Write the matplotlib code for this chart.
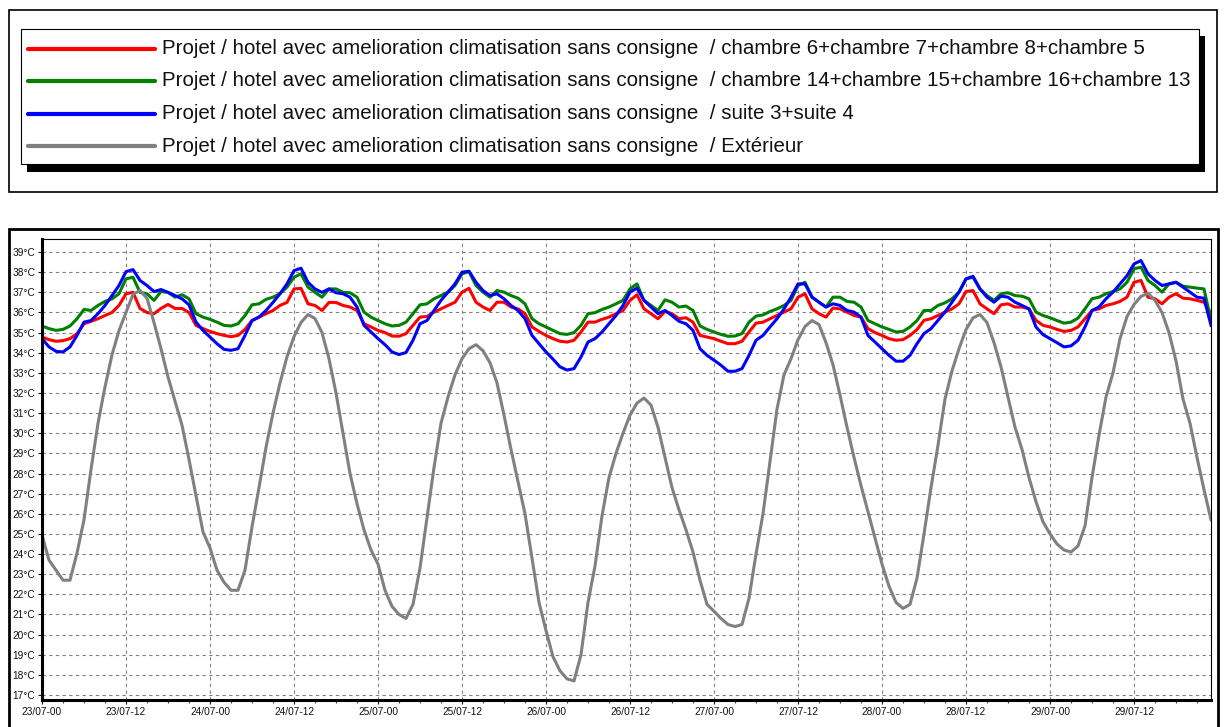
import matplotlib
matplotlib.use('Agg')
import matplotlib.pyplot as plt
from matplotlib.patches import Rectangle
from matplotlib.lines import Line2D
from matplotlib.ticker import MultipleLocator
import numpy as np

plt.rcParams['font.family'] = ['Liberation Sans', 'DejaVu Sans']

W, H = 1227, 727

# hourly temperatures, 23/07 00h -> 29/07 23h
hours = np.arange(168)

red = [34.78, 34.65, 34.57, 34.6, 34.7, 34.95, 35.44, 35.56, 35.69, 35.85,
       36.0, 36.35, 36.93, 37.0, 36.2, 36.0, 35.94, 36.2, 36.4, 36.2,
       36.2, 36.0, 35.36, 35.2, 35.06, 34.95, 34.86, 34.8, 34.86, 35.16,
       35.6, 35.77, 35.94, 36.1, 36.35, 36.5, 37.17, 37.2, 36.43, 36.35,
       36.1, 36.5, 36.5,
       36.35, 36.27, 36.1, 35.44, 35.28, 35.11, 35.0, 34.83, 34.82, 34.95,
       35.36, 35.77, 35.8, 36.02, 36.18, 36.35, 36.51, 37.01, 37.2, 36.51,
       36.27, 36.1, 36.51, 36.51, 36.27, 36.18, 35.94, 35.28, 35.06, 34.86,
       34.7, 34.57, 34.53, 34.62, 35.03, 35.52, 35.52, 35.66, 35.77, 35.94, 36.1,
       36.6, 36.88, 36.18, 35.94, 35.69, 36.05, 35.94, 35.69, 35.74, 35.52,
       34.86, 34.78, 34.7, 34.57, 34.45, 34.45, 34.57, 35.03, 35.47, 35.52,
       35.69, 35.85, 36.02, 36.18, 36.76, 36.93, 36.18, 35.94, 35.77, 36.22,
       36.18, 36.02, 35.85, 35.77, 35.2, 35.0, 34.86, 34.7, 34.62, 34.65, 34.86,
       35.15, 35.61, 35.69, 35.85, 36.02, 36.18, 36.43, 37.04, 37.09, 36.43,
       36.18, 35.94, 36.38, 36.43, 36.27, 36.27, 36.18, 35.61, 35.36, 35.28,
       35.16, 35.06, 35.11, 35.28, 35.69, 36.1, 36.18, 36.35, 36.43, 36.55,
       36.76, 37.5, 37.59, 36.76, 36.68, 36.43, 36.76, 36.93, 36.71, 36.68,
       36.6, 36.51, 35.94]

green = [35.33, 35.2, 35.11, 35.16, 35.33, 35.69, 36.15, 36.1, 36.35, 36.55,
         36.68, 36.93, 37.67, 37.75, 37.0, 36.93, 36.6, 37.04, 37.0, 36.76,
         36.88, 36.68, 35.94, 35.77, 35.66, 35.52, 35.36, 35.33, 35.44, 35.85,
         36.38, 36.43, 36.65, 36.76, 36.93, 37.26, 37.75, 37.92, 37.26, 37.0,
         36.76, 37.17, 37.17,
         37.0, 36.98, 36.76, 36.02, 35.77, 35.6, 35.44, 35.33, 35.36, 35.52,
         35.94, 36.38, 36.43, 36.68, 36.84, 37.01, 37.34, 37.92, 38.03, 37.34,
         37.01, 36.76, 37.09, 37.01, 36.84, 36.71, 36.43, 35.69, 35.44, 35.28,
         35.11, 34.95, 34.91, 35.0, 35.36, 35.94, 35.99, 36.15, 36.27, 36.43, 36.6,
         37.17, 37.42, 36.6, 36.35, 36.1, 36.63, 36.51, 36.27, 36.32, 36.1,
         35.33, 35.16, 35.03, 34.91, 34.82, 34.83, 34.95, 35.52, 35.82, 35.88,
         36.05, 36.18, 36.35, 36.6, 37.34, 37.5, 36.76, 36.51, 36.27, 36.76,
         36.76, 36.55, 36.51, 36.27, 35.6, 35.44, 35.28, 35.16, 35.03, 35.06, 35.28,
         35.6, 36.1, 36.1, 36.35, 36.48, 36.68, 37.01, 37.67, 37.75, 37.17,
         36.84, 36.6, 36.93, 36.98, 36.84, 36.81, 36.68, 36.02, 35.85, 35.74,
         35.6, 35.47, 35.52, 35.72, 36.18, 36.68, 36.76, 36.93, 37.04, 37.17,
         37.5, 38.17, 38.25, 37.59, 37.34, 37.01, 37.42, 37.5, 37.31, 37.26,
         37.21, 37.17, 35.6]

blue = [34.7, 34.29, 34.07, 34.04, 34.29, 34.86, 35.52, 35.6, 35.94, 36.35,
        36.84, 37.34, 38.03, 38.13, 37.59, 37.34, 37.04, 37.14, 37.0, 36.84,
        36.68, 36.38, 35.52, 35.11, 34.78, 34.45, 34.17, 34.12, 34.2, 34.86,
        35.6, 35.77, 36.1, 36.5, 36.93, 37.42, 38.08, 38.2, 37.5, 37.17,
        37.0, 37.17, 36.98,
        36.93, 36.76, 36.27, 35.36, 35.03, 34.7, 34.4, 34.04, 33.91, 34.01,
        34.62, 35.44, 35.6, 36.1, 36.6, 37.01, 37.42, 38.0, 38.05, 37.5,
        37.09, 36.84, 36.93, 36.68, 36.35, 36.1, 35.69, 34.86, 34.45, 34.04,
        33.68, 33.3, 33.14, 33.21, 33.79, 34.53, 34.7, 35.03, 35.44, 35.85, 36.35,
        37.01, 37.21, 36.6, 36.27, 35.94, 36.1, 35.85, 35.56, 35.44, 35.11,
        34.2, 33.87, 33.63, 33.38, 33.08, 33.08, 33.21, 33.87, 34.62, 34.86,
        35.28, 35.69, 36.18, 36.76, 37.42, 37.42, 36.76, 36.51, 36.27, 36.43,
        36.35, 36.1, 36.02, 35.77, 34.86, 34.53, 34.2, 33.87, 33.58, 33.58, 33.87,
        34.45, 34.95, 35.2, 35.61, 36.02, 36.51, 37.01, 37.67, 37.8, 37.17,
        36.76, 36.51, 36.81, 36.76, 36.51, 36.35, 36.18, 35.28, 34.9, 34.7,
        34.5, 34.29, 34.34, 34.62, 35.28, 36.1, 36.27, 36.68, 37.01, 37.42,
        37.83, 38.41, 38.58, 37.92, 37.59, 37.34, 37.42, 37.5, 37.26, 37.01,
        36.76, 36.71, 35.36]

ext = [24.95, 23.7, 23.2, 22.7, 22.7, 24.05, 25.7, 28.2, 30.5, 32.3,
       33.9, 35.1, 36.0, 36.9, 37.1, 36.7, 35.5, 34.2, 32.8, 31.6,
       30.4, 28.7, 26.9, 25.1, 24.3, 23.2, 22.6, 22.2, 22.2, 23.2,
       25.35, 27.3, 29.3, 31.0, 32.5, 33.8, 34.8, 35.5, 35.9, 35.7,
       35.0, 33.7, 32.0, 30.0, 28.0, 26.5, 25.2, 24.2, 23.5, 22.2,
       21.4, 21.0, 20.8, 21.5, 23.3, 25.8, 28.3, 30.5, 31.8, 32.9,
       33.7, 34.2, 34.4, 34.1, 33.5, 32.5, 30.9, 29.2, 27.6, 26.0,
       23.8, 21.6, 20.2, 18.9, 18.2, 17.8, 17.7, 19.0, 21.6, 23.4,
       25.9, 27.8, 29.0, 30.0, 30.9, 31.5, 31.75, 31.4, 30.3, 28.8,
       27.3, 26.2, 25.2, 24.1, 22.7, 21.5, 21.16, 20.8, 20.5, 20.4,
       20.5, 21.8, 24.0, 26.0, 28.6, 31.2, 32.9, 33.7, 34.65, 35.3,
       35.6, 35.4, 34.5, 33.4, 31.9, 30.3, 28.8, 27.4, 26.1, 24.8,
       23.5, 22.4, 21.6, 21.3, 21.5, 22.8, 25.0, 27.3, 29.4, 31.7,
       33.1, 34.2, 35.15, 35.73, 35.9, 35.5, 34.5, 33.3, 31.8, 30.3,
       29.2, 27.8, 26.6, 25.6, 25.0, 24.5, 24.2, 24.1, 24.4, 25.4,
       27.8, 29.9, 31.8, 33.0, 34.7, 35.8, 36.4, 36.8, 36.95, 36.6,
       36.0, 35.0, 33.6, 31.7, 30.5, 28.8, 27.2, 25.7]

prefix = 'Projet / hotel avec amelioration climatisation sans consigne  / '
labels = [prefix + 'chambre 6+chambre 7+chambre 8+chambre 5',
          prefix + 'chambre 14+chambre 15+chambre 16+chambre 13',
          prefix + 'suite 3+suite 4',
          prefix + 'Extérieur']
colors = ['#ff0000', '#008000', '#0000ff', '#808080']

tick_labels = [f'{23 + h // 24}/07-{h % 24:02d}' for h in range(0, 168, 12)]


def fx(px):
    return px / W


def fy(py):
    return 1 - py / H


fig = plt.figure(figsize=(W / 100, H / 100), dpi=100)

############ legend panel ############
fig.add_artist(Rectangle((fx(9), fy(192)), (1217 - 9) / W, (192 - 10) / H,
                         fill=False, ec='black', lw=1.2, transform=fig.transFigure))
fig.add_artist(Rectangle((fx(27), fy(172)), (1205 - 27) / W, (172 - 36) / H,
                         fc='black', ec='none', transform=fig.transFigure))
fig.add_artist(Rectangle((fx(21), fy(164)), (1199 - 21) / W, (164 - 29) / H,
                         fc='white', ec='black', lw=0.8, transform=fig.transFigure))
for i, (lab, col) in enumerate(zip(labels, colors)):
    yrow = 48.5 + i * 32.5
    fig.add_artist(Line2D([fx(28), fx(155)], [fy(yrow)] * 2, color=col, lw=3,
                          solid_capstyle='round', transform=fig.transFigure))
    fig.text(fx(162), fy(yrow), lab, fontsize=14.8, va='center', ha='left', color='#111111')

############ chart panel ############
fig.add_artist(Rectangle((fx(9), fy(740)), (1218 - 9) / W, (740 - 229) / H,
                         fill=False, ec='black', lw=2, transform=fig.transFigure))

ax = fig.add_axes([fx(42), fy(700), (1211 - 42) / W, (700 - 239) / H])
ax.plot(hours, red, color=colors[0], lw=2.2)
ax.plot(hours, green, color=colors[1], lw=2.2)
ax.plot(hours, blue, color=colors[2], lw=2.2)
ax.plot(hours, ext, color=colors[3], lw=2.2)

ax.set_xlim(0, 167)
ax.set_ylim(16.75, 39.65)
ax.set_yticks(range(17, 40))
ax.set_yticklabels([f'{v}°C' for v in range(17, 40)])
ax.set_xticks(range(0, 168, 12))
ax.set_xticklabels(tick_labels)
ax.xaxis.set_minor_locator(MultipleLocator(3))
ax.tick_params(axis='both', which='major', labelsize=7.3, length=3, width=0.8,
               colors='#111111', pad=2)
ax.tick_params(axis='x', which='minor', length=2, width=0.8, color='#444444')
ax.grid(True, which='major', ls=(0, (3, 3)), color='#808080', lw=0.8)
ax.set_axisbelow(True)
for side in ['left', 'bottom']:
    ax.spines[side].set_linewidth(2.2)
for side in ['top', 'right']:
    ax.spines[side].set_linewidth(0.8)

plt.savefig('out.png', dpi=100)
plt.close()
